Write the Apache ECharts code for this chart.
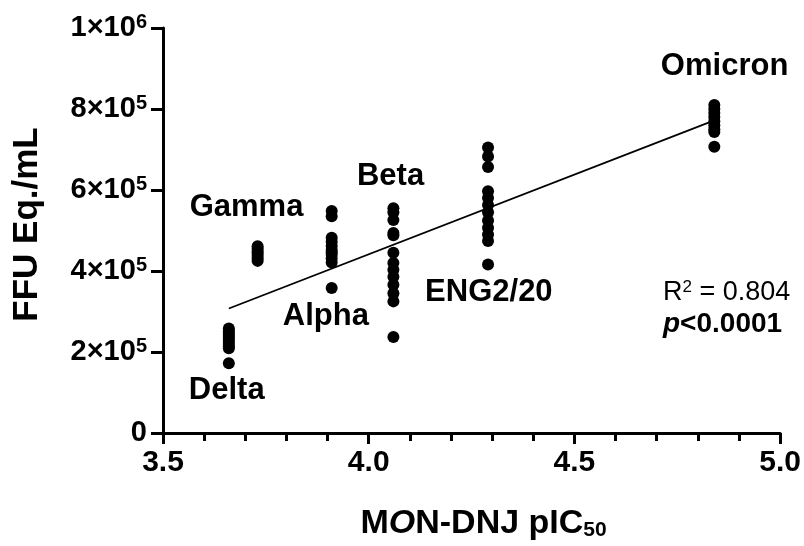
<!DOCTYPE html>
<html>
<head>
<meta charset="utf-8">
<script src="https://cdn.jsdelivr.net/npm/echarts@6/dist/echarts.min.js"></script>
<style>
  html, body { margin: 0; padding: 0; background: #fff; }
  #chart { width: 804px; height: 546px; }
</style>
</head>
<body>
<div id="chart"></div>
<script>
// MON-DNJ potency (pIC50) of each SARS-CoV-2 variant against viral titre
const variantNames = ['Delta', 'Gamma', 'Alpha', 'Beta', 'ENG2/20', 'Omicron'];
const variantPIC50 = [3.66, 3.73, 3.91, 4.06, 4.29, 4.84];

const deltaFFU   = [258000, 252000, 247000, 242000, 237000, 232000, 226000, 220000, 214000, 209000, 172000];
const gammaFFU   = [461000, 455000, 449000, 443000, 437000, 431000, 425000];
const alphaFFU   = [548000, 535000, 482000, 472000, 462000, 452000, 446000, 440000, 431000, 421000, 358000];
const betaFFU    = [555000, 545000, 526000, 494000, 488000, 445000, 420000, 403000, 386000, 366000, 345000, 325000, 237000];
const eng220FFU  = [705000, 683000, 657000, 597000, 580000, 563000, 545000, 525000, 507000, 490000, 474000, 416000];
const omicronFFU = [810000, 800000, 790000, 780000, 770000, 760000, 750000, 743000, 707000];

const xTickLabels = ['3.5', '4.0', '4.5', '5.0'];
const yTickLabels = ['0', '2×10{s|5}', '4×10{s|5}', '6×10{s|5}', '8×10{s|5}', '1×10{s|6}'];
const fitStats = { r2: '0.804', p: '<0.0001' };

const groups = [deltaFFU, gammaFFU, alphaFFU, betaFFU, eng220FFU, omicronFFU];

// all points as [pIC50, FFU]
const points = [];
groups.forEach((vals, i) => vals.forEach(v => points.push([variantPIC50[i], v])));

// ordinary least-squares fit over every replicate
const n = points.length;
const mx = points.reduce((s, p) => s + p[0], 0) / n;
const my = points.reduce((s, p) => s + p[1], 0) / n;
let sxy = 0, sxx = 0;
points.forEach(p => { sxy += (p[0] - mx) * (p[1] - my); sxx += (p[0] - mx) ** 2; });
const slope = sxy / sxx;
const intercept = my - slope * mx;
const xLo = Math.min(...variantPIC50), xHi = Math.max(...variantPIC50);
const fitLine = [[xLo, intercept + slope * xLo], [xHi, intercept + slope * xHi]];

// where each variant name sits, in axis units
const nameSpots = [[3.655, 105000], [3.703, 557000], [3.896, 288000], [4.053, 633000], [4.292, 347000], [4.865, 905000]];

const FONT = '"Liberation Sans", Arial, Helvetica, sans-serif';

const chart = echarts.init(document.getElementById('chart'), null, { renderer: 'canvas' });

chart.setOption({
  animation: false,
  backgroundColor: '#ffffff',
  grid: { left: 163, right: 19, top: 28, bottom: 109, containLabel: false },
  xAxis: {
    type: 'value', min: 3.5, max: 5.0, interval: 0.5,
    axisLine: { show: true, onZero: false, lineStyle: { color: '#000', width: 3 } },
    axisTick: { show: true, inside: false, length: 11, lineStyle: { color: '#000', width: 3 } },
    minorTick: { show: true, splitNumber: 5, length: 8, lineStyle: { color: '#000', width: 3 } },
    splitLine: { show: false },
    axisLabel: {
      margin: 15, color: '#000', fontFamily: FONT, fontWeight: 'bold', fontSize: 30,
      formatter: v => xTickLabels[Math.round((v - 3.5) / 0.5)]
    },
    name: '{b|M}{i|O}{b|N-DNJ pIC}{sub|50}',
    nameLocation: 'middle', nameGap: 74,
    nameTextStyle: {
      padding: [0, 0, 0, 24],
      rich: {
        b: { fontFamily: FONT, fontWeight: 'bold', fontSize: 34, color: '#000' },
        i: { fontFamily: FONT, fontWeight: 'bold', fontStyle: 'italic', fontSize: 34, color: '#000' },
        sub: { fontFamily: FONT, fontWeight: 'bold', fontSize: 21, color: '#000', verticalAlign: 'bottom', padding: [12, 0, 0, 0] }
      }
    }
  },
  yAxis: {
    type: 'value', min: 0, max: 1000000, interval: 200000,
    axisLine: { show: true, onZero: false, lineStyle: { color: '#000', width: 3 } },
    axisTick: { show: true, inside: false, length: 12, lineStyle: { color: '#000', width: 3 } },
    splitLine: { show: false },
    axisLabel: {
      margin: 16, color: '#000', fontFamily: FONT, fontWeight: 'bold', fontSize: 29,
      formatter: v => yTickLabels[Math.round(v / 200000)],
      rich: {
        s: { fontFamily: FONT, fontWeight: 'bold', fontSize: 20, color: '#000', verticalAlign: 'top', padding: [0, 0, 12, 0] }
      }
    },
    name: 'FFU Eq./mL',
    nameLocation: 'middle', nameGap: 118,
    nameTextStyle: { fontFamily: FONT, fontWeight: 'bold', fontSize: 35, color: '#000', padding: [0, 0, 0, 12] }
  },
  graphic: [
    {
      type: 'text', left: 663, top: 279,
      style: {
        text: '{t|R}{s|2}{t| = ' + fitStats.r2 + '}',
        rich: {
          t: { fontFamily: FONT, fontSize: 27, fill: '#000' },
          s: { fontFamily: FONT, fontSize: 17, fill: '#000', verticalAlign: 'top', padding: [0, 0, 10, 0] }
        }
      }
    },
    {
      type: 'text', left: 663, top: 310,
      style: {
        text: '{i|p}{b|' + fitStats.p + '}',
        rich: {
          i: { fontFamily: FONT, fontSize: 28, fontWeight: 'bold', fontStyle: 'italic', fill: '#000' },
          b: { fontFamily: FONT, fontSize: 28, fontWeight: 'bold', fill: '#000' }
        }
      }
    }
  ],
  series: [
    {
      type: 'line', data: fitLine, symbol: 'none', z: 1,
      lineStyle: { color: '#000', width: 1.8 }
    },
    {
      type: 'scatter', data: points, symbol: 'circle', symbolSize: 12, z: 2,
      itemStyle: { color: '#000', opacity: 1 }
    },
    {
      type: 'scatter', symbolSize: 1, z: 3,
      itemStyle: { color: '#fff', opacity: 0 },
      data: nameSpots.map((c, i) => ({ value: c, name: variantNames[i] })),
      label: {
        show: true, position: 'inside', formatter: p => p.name, opacity: 1,
        color: '#000', fontFamily: FONT, fontWeight: 'bold', fontSize: 31
      }
    }
  ]
});
</script>
</body>
</html>
